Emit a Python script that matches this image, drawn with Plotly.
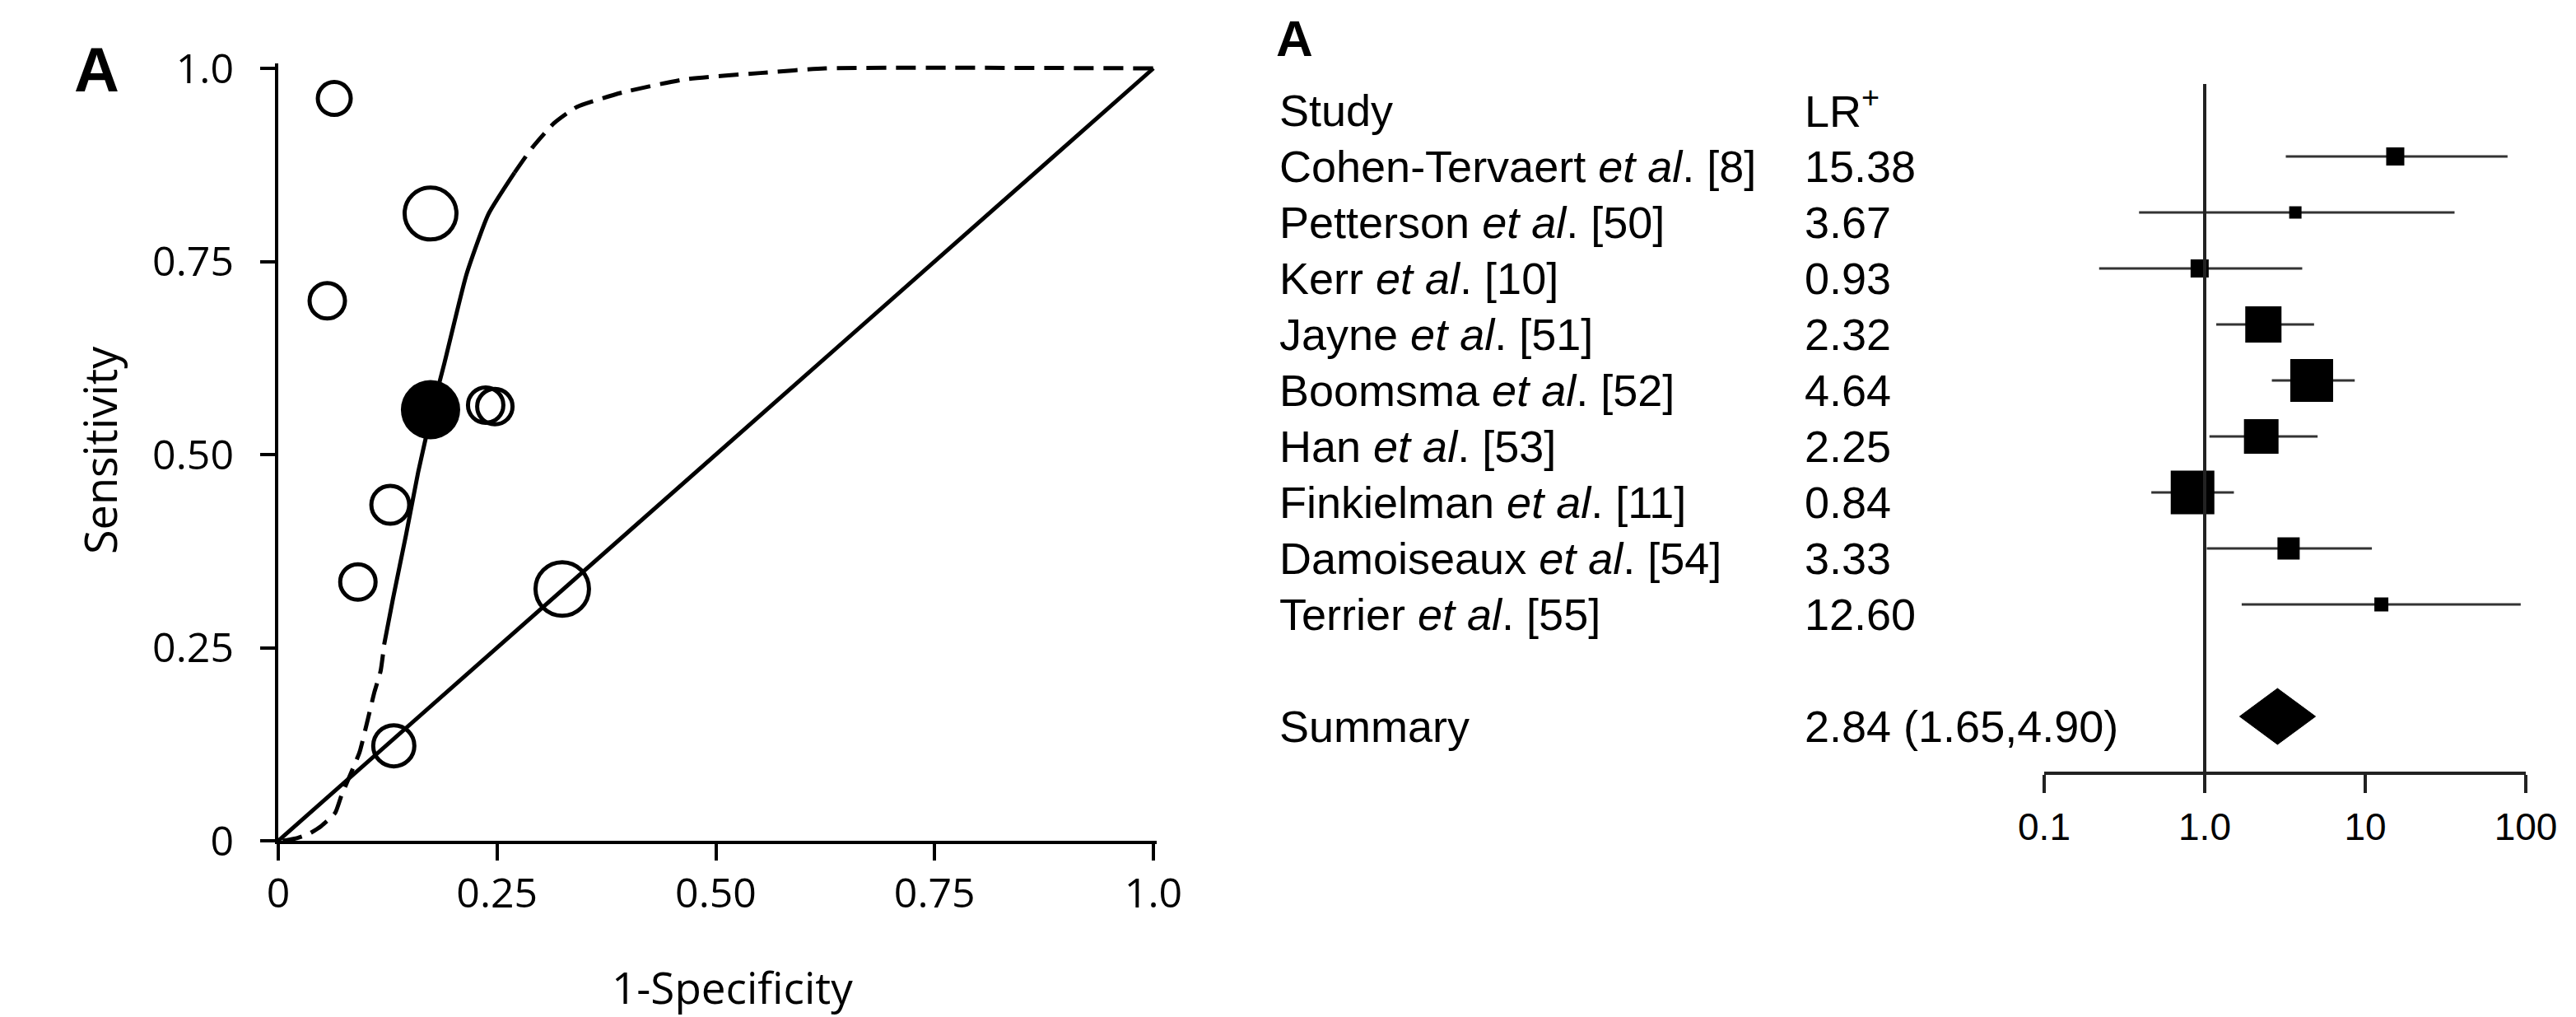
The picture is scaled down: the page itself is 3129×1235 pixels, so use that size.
import plotly.graph_objects as go

W, H = 3129, 1235

# ---------------- Left panel: SROC data ----------------
fpr = [0.064, 0.174, 0.056, 0.237, 0.2475, 0.128, 0.091, 0.3245, 0.132]
sens = [0.961, 0.812, 0.699, 0.564, 0.562, 0.435, 0.335, 0.326, 0.123]
circle_size = [40, 63, 43, 43, 43, 46, 43, 65, 50]
summary_fpr = [0.174]
summary_sens = [0.558]

curve_low_x = [0.005, 0.020, 0.035, 0.049, 0.065, 0.072, 0.084, 0.093, 0.1025, 0.110, 0.117, 0.121]
curve_low_y = [0.0, 0.003, 0.009, 0.019, 0.036, 0.058, 0.090, 0.115, 0.158, 0.193, 0.220, 0.254]
curve_mid_x = [0.121, 0.131, 0.146, 0.160, 0.175, 0.190, 0.215, 0.240, 0.270]
curve_mid_y = [0.254, 0.313, 0.396, 0.478, 0.553, 0.619, 0.733, 0.811, 0.865]
curve_up_x = [0.270, 0.290, 0.315, 0.341, 0.394, 0.466, 0.551, 0.625, 1.0]
curve_up_y = [0.865, 0.897, 0.929, 0.950, 0.969, 0.986, 0.994, 1.0, 1.0]

diag_x = [0, 1]
diag_y = [0, 1]

roc_ticks = [0, 0.25, 0.5, 0.75, 1.0]
roc_ticktext = ["0", "0.25", "0.50", "0.75", "1.0"]

# ---------------- Right panel: forest plot data ----------------
studies = [
    "Cohen-Tervaert <i>et al</i>. [8]",
    "Petterson <i>et al</i>. [50]",
    "Kerr <i>et al</i>. [10]",
    "Jayne <i>et al</i>. [51]",
    "Boomsma <i>et al</i>. [52]",
    "Han <i>et al</i>. [53]",
    "Finkielman <i>et al</i>. [11]",
    "Damoiseaux <i>et al</i>. [54]",
    "Terrier <i>et al</i>. [55]",
]
lr_text = ["15.38", "3.67", "0.93", "2.32", "4.64", "2.25", "0.84", "3.33", "12.60"]
lr = [15.38, 3.67, 0.93, 2.32, 4.64, 2.25, 0.84, 3.33, 12.60]
ci_low = [3.2, 0.39, 0.22, 1.18, 2.62, 1.07, 0.465, 1.03, 1.7]
ci_high = [77, 36, 4.05, 4.8, 8.6, 5.05, 1.52, 11.0, 93]
square_size = [22, 15, 22, 44, 52, 42, 53, 27, 17]
rows = [1, 2, 3, 4, 5, 6, 7, 8, 9]

summary_row = 11
summary_lr = 2.84
summary_low = 1.65
summary_high = 4.90
summary_text = "2.84 (1.65,4.90)"

forest_ticks = [0.1, 1, 10, 100]
forest_ticktext = ["0.1", "1.0", "10", "100"]

# ---------------- geometry (pixels) ----------------
def px_x(p):
    return p / W

def px_y(p):
    return (H - p) / H

ROC_FONT = "Open Sans, Noto Sans, Arial"
FOREST_FONT = "Liberation Sans, Arial, Helvetica"

fig = go.Figure()

LW = 5
# SROC curve pieces
fig.add_trace(go.Scatter(x=curve_low_x, y=curve_low_y, mode="lines", xaxis="x", yaxis="y",
                         line=dict(color="black", width=LW, dash="24px,12px", shape="spline", smoothing=0.5),
                         cliponaxis=False, hoverinfo="skip"))
fig.add_trace(go.Scatter(x=curve_mid_x, y=curve_mid_y, mode="lines", xaxis="x", yaxis="y",
                         line=dict(color="black", width=LW, shape="spline", smoothing=0.5),
                         cliponaxis=False, hoverinfo="skip"))
fig.add_trace(go.Scatter(x=curve_up_x, y=curve_up_y, mode="lines", xaxis="x", yaxis="y",
                         line=dict(color="black", width=LW, dash="24px,12px", shape="spline", smoothing=0.5),
                         cliponaxis=False, hoverinfo="skip"))
fig.add_trace(go.Scatter(x=diag_x, y=diag_y, mode="lines", xaxis="x", yaxis="y",
                         line=dict(color="black", width=LW), cliponaxis=False, hoverinfo="skip"))
fig.add_trace(go.Scatter(x=fpr, y=sens, mode="markers", xaxis="x", yaxis="y",
                         marker=dict(symbol="circle-open", size=circle_size, color="black", opacity=1,
                                     line=dict(color="black", width=5)),
                         cliponaxis=False))
fig.add_trace(go.Scatter(x=summary_fpr, y=summary_sens, mode="markers", xaxis="x", yaxis="y",
                         marker=dict(symbol="circle", size=72, color="black", opacity=1, line=dict(width=0)),
                         cliponaxis=False))

# Forest: CI lines
ci_x, ci_y = [], []
for lo, hi, r in zip(ci_low, ci_high, rows):
    ci_x += [lo, hi, None]
    ci_y += [r, r, None]
fig.add_trace(go.Scatter(x=ci_x, y=ci_y, mode="lines", xaxis="x2", yaxis="y2",
                         line=dict(color="#333333", width=3), cliponaxis=False, hoverinfo="skip"))
fig.add_trace(go.Scatter(x=lr, y=rows, mode="markers", xaxis="x2", yaxis="y2",
                         marker=dict(symbol="square", size=square_size, color="black", opacity=1,
                                     line=dict(width=0)),
                         cliponaxis=False))
# summary diamond
half_h = 0.5
fig.add_trace(go.Scatter(
    x=[summary_low, summary_lr, summary_high, summary_lr, summary_low],
    y=[summary_row, summary_row - half_h, summary_row, summary_row + half_h, summary_row],
    mode="lines", fill="toself", fillcolor="black", line=dict(color="black", width=1),
    xaxis="x2", yaxis="y2", cliponaxis=False, hoverinfo="skip"))

y2_top, y2_bottom = -0.294, 11.985

# ROC axes: a few pixels of headroom so the curves at 1.0 are not clipped
x_right = 1 + 4 / 1063
y_top = 1 + 6 / 938

fig.update_layout(
    template="none",
    width=W, height=H, autosize=False,
    margin=dict(l=0, r=0, t=0, b=0, pad=0, autoexpand=False),
    paper_bgcolor="white", plot_bgcolor="white",
    showlegend=False,
    xaxis=dict(domain=[px_x(338), px_x(1405)], range=[0, x_right], anchor="y", automargin=False,
               showgrid=False, zeroline=False, showline=True, linecolor="black", linewidth=4,
               ticks="outside", ticklen=20, tickwidth=4, tickcolor="black",
               tickvals=roc_ticks, ticktext=roc_ticktext,
               tickfont=dict(family=ROC_FONT, size=50, color="black"), ticklabelstandoff=-3),
    yaxis=dict(domain=[px_y(1021), px_y(77)], range=[0, y_top], anchor="x", automargin=False,
               showgrid=False, zeroline=False, showline=True, linecolor="black", linewidth=4,
               ticks="outside", ticklen=18, tickwidth=4, tickcolor="black",
               tickvals=roc_ticks, ticktext=roc_ticktext,
               tickfont=dict(family=ROC_FONT, size=50, color="black"), ticklabelstandoff=22),
    xaxis2=dict(type="log", domain=[px_x(2483), px_x(3068)], range=[-1, 2], anchor="y2",
                automargin=False,
                showgrid=False, zeroline=False, showline=True, linecolor="#222", linewidth=4,
                ticks="outside", ticklen=22, tickwidth=4, tickcolor="#222",
                tickvals=forest_ticks, ticktext=forest_ticktext,
                tickfont=dict(family=FOREST_FONT, size=46, color="black"), ticklabelstandoff=2),
    yaxis2=dict(domain=[px_y(937), px_y(102)], range=[y2_bottom, y2_top], anchor="free",
                automargin=False,
                position=px_x(2678), showgrid=False, zeroline=False, showline=True,
                linecolor="#222", linewidth=4, showticklabels=False, ticks=""),
)

ann = []
# panel labels
ann.append(dict(text="<b>A</b>", x=px_x(117), y=px_y(85), xref="paper", yref="paper",
                showarrow=False, xanchor="center", yanchor="middle",
                font=dict(family="Liberation Sans, Arial", size=76, color="black")))
ann.append(dict(text="<b>A</b>", x=px_x(1572), y=px_y(47), xref="paper", yref="paper",
                showarrow=False, xanchor="center", yanchor="middle",
                font=dict(family="Liberation Sans, Arial", size=62, color="black")))
# ROC axis titles
ann.append(dict(text="Sensitivity", x=px_x(121), y=px_y(547), xref="paper", yref="paper",
                showarrow=False, textangle=-90, xanchor="center", yanchor="middle",
                font=dict(family=ROC_FONT, size=54, color="black")))
ann.append(dict(text="1-Specificity", x=px_x(889), y=px_y(1198), xref="paper", yref="paper",
                showarrow=False, xanchor="center", yanchor="middle",
                font=dict(family=ROC_FONT, size=53, color="black")))

# forest text
txt_off = 0.18
col_study = px_x(1552)
col_lr = px_x(2190)
ffont = dict(family=FOREST_FONT, size=54, color="black")
ann.append(dict(text="Study", x=col_study, y=0 + txt_off, xref="paper", yref="y2",
                showarrow=False, xanchor="left", yanchor="middle", font=ffont))
ann.append(dict(text="LR<sup>+</sup>", x=col_lr, y=0 + txt_off - 0.05, xref="paper", yref="y2",
                showarrow=False, xanchor="left", yanchor="middle", font=ffont))
for s, t, r in zip(studies, lr_text, rows):
    ann.append(dict(text=s, x=col_study, y=r + txt_off, xref="paper", yref="y2",
                    showarrow=False, xanchor="left", yanchor="middle", font=ffont))
    ann.append(dict(text=t, x=col_lr, y=r + txt_off, xref="paper", yref="y2",
                    showarrow=False, xanchor="left", yanchor="middle", font=ffont))
ann.append(dict(text="Summary", x=col_study, y=summary_row + txt_off, xref="paper", yref="y2",
                showarrow=False, xanchor="left", yanchor="middle", font=ffont))
ann.append(dict(text=summary_text, x=col_lr, y=summary_row + txt_off, xref="paper", yref="y2",
                showarrow=False, xanchor="left", yanchor="middle", font=ffont))

fig.update_layout(annotations=ann)

fig.write_html("out.html",
               config={"displayModeBar": False, "staticPlot": True},
               post_script="document.body.style.margin='0px';document.body.style.overflow='hidden';")
